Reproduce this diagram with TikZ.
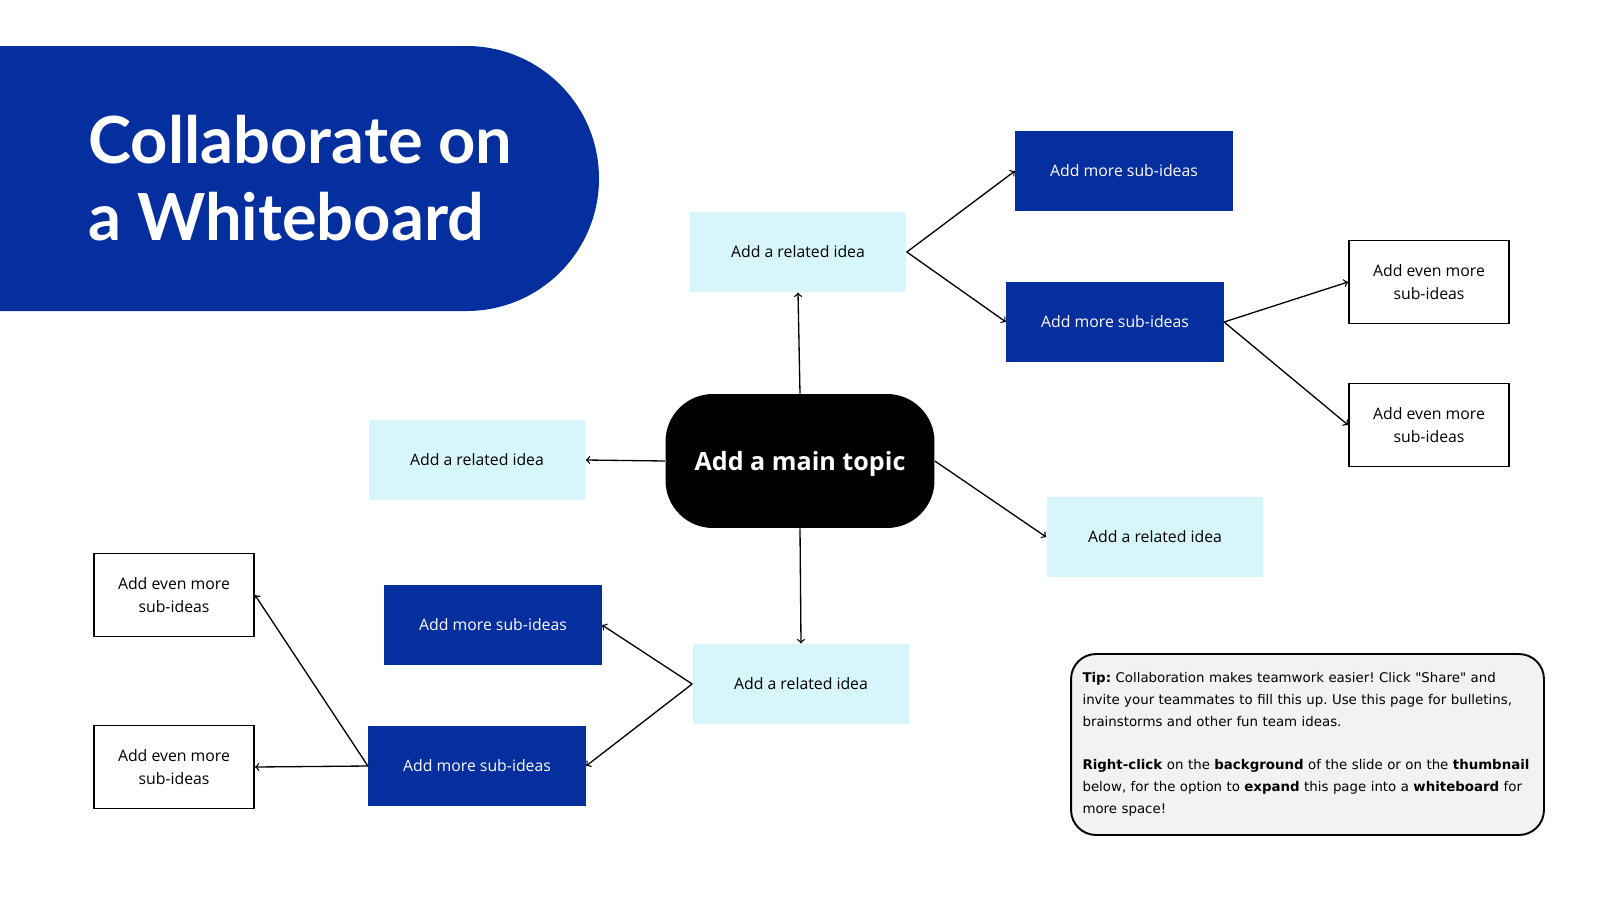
\documentclass[tikz,border=0pt]{standalone}
\usepackage{fontspec}
\setmainfont{Open Sans}
\newfontfamily\titlefont{Lato}
\newfontfamily\tipfont{DejaVu Sans}
\definecolor{navy}{HTML}{052E9E}
\definecolor{pale}{HTML}{D7F6FB}
\definecolor{tipgray}{HTML}{F2F2F2}
\frenchspacing
\begin{document}
\begin{tikzpicture}[x=0.02cm,y=-0.02cm,
  idea/.style={rectangle,fill=pale,minimum width=4.34cm,minimum height=1.61cm,font=\fontsize{9}{12.7}\selectfont},
  sub/.style={rectangle,fill=navy,text=white,minimum width=4.35cm,minimum height=1.6cm,font=\fontsize{9}{12.7}\selectfont},
  even/.style={rectangle,draw=black,line width=1.1pt,fill=white,minimum width=3.2cm,minimum height=1.66cm,align=center,font=\fontsize{9}{12.7}\selectfont},
  link/.style={->,line width=0.75pt}]
\useasboundingbox (0,0) rectangle (1600,900);
% title banner
\fill[navy,rounded corners=2.65cm] (-300,46) rectangle (599,311);
\node[anchor=base west,inner sep=0pt,text=white,font=\titlefont\bfseries\fontsize{37}{44}\selectfont] (title1) at (88,163) {Collaborate on};
\node[anchor=base west,inner sep=0pt,text=white,font=\titlefont\bfseries\fontsize{37}{44}\selectfont] (title2) at (88,240) {a Whiteboard};

\node[rectangle,fill=black,text=white,rounded corners=0.95cm,minimum width=5.38cm,minimum height=2.68cm,text depth=0pt,font=\bfseries\fontsize{14.3}{16}\selectfont] (topic) at (800,461) {Add a main topic};

\node[idea] (ideaup) at (798,252) {Add a related idea};
\node[idea] (idealeft) at (477,460) {Add a related idea};
\node[idea] (idearight) at (1155,537) {Add a related idea};
\node[idea] (ideadown) at (801,684) {Add a related idea};

\node[sub] (subup) at (1124,171) {Add more sub-ideas};
\node[sub] (submid) at (1115,322) {Add more sub-ideas};
\node[sub] (subdowna) at (493,625) {Add more sub-ideas};
\node[sub] (subdownb) at (477,766) {Add more sub-ideas};

\node[even] (evena) at (1429,282) {Add even more\\sub-ideas};
\node[even] (evenb) at (1429,425) {Add even more\\sub-ideas};
\node[even] (evenc) at (174,595) {Add even more\\sub-ideas};
\node[even] (evend) at (174,767) {Add even more\\sub-ideas};

\draw[link] (topic.north) -- (ideaup.south);
\draw[link] (topic.west) -- (idealeft.east);
\draw[link] (topic.east) -- (idearight.west);
\draw[link] (topic.south) -- (ideadown.north);
\draw[link] (ideaup.east) -- (subup.west);
\draw[link] (ideaup.east) -- (submid.west);
\draw[link] (submid.east) -- (evena.west);
\draw[link] (submid.east) -- (evenb.west);
\draw[link] (ideadown.west) -- (subdowna.east);
\draw[link] (ideadown.west) -- (subdownb.east);
\draw[link] (subdownb.west) -- (evenc.east);
\draw[link] (subdownb.west) -- (evend.east);

% tip
\node[rectangle,draw=black,line width=1.1pt,fill=tipgray,rounded corners=0.5cm,minimum width=9.46cm,minimum height=3.62cm,text width=9.0cm,inner xsep=0.23cm,inner ysep=0.28cm,align=left,font=\tipfont\fontsize{7.6}{12.4}\selectfont] (tip) at (1307.5,744.5)
{\textbf{Tip:} Collaboration makes teamwork easier! Click "Share" and\\
invite your teammates to fill this up. Use this page for bulletins,\\
brainstorms and other fun team ideas.\\
\mbox{}\\
\textbf{Right-click} on the \textbf{background} of the slide or on the \textbf{thumbnail}\\
below, for the option to \textbf{expand} this page into a \textbf{whiteboard} for\\
more space!};
\end{tikzpicture}
\end{document}
